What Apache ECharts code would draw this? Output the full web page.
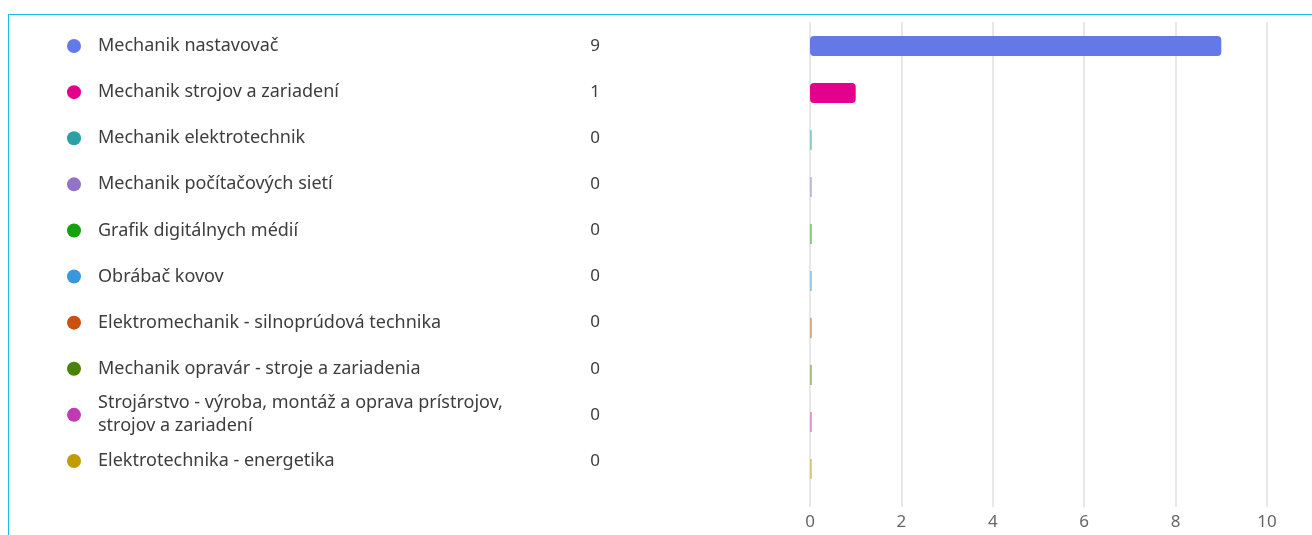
<!DOCTYPE html>
<html lang="sk">
  <head>
    <meta charset="UTF-8" />
    <title>Odbory</title>
    <script src="https://cdn.jsdelivr.net/npm/echarts@6/dist/echarts.min.js"></script>
    <style>
      html, body { margin: 0; padding: 0; background: #fff; }
      #main { position: absolute; left: 0; top: 0; width: 1312px; height: 535px; }
      /* modrý rámček okolo */
      #frame {
        position: absolute; left: 8px; top: 14px; width: 1304px; height: 521px;
        border-top: 1.5px solid #1ab8ec; border-left: 1.5px solid #1ab8ec;
        pointer-events: none; box-sizing: border-box;
      }
    </style>
  </head>
  <body>
    <div id="main"></div>
    <div id="frame"></div>
    <script>
      // údaje
      const odbory = [
        "Mechanik nastavovač",
        "Mechanik strojov a zariadení",
        "Mechanik elektrotechnik",
        "Mechanik počítačových sietí",
        "Grafik digitálnych médií",
        "Obrábač kovov",
        "Elektromechanik - silnoprúdová technika",
        "Mechanik opravár - stroje a zariadenia",
        "Strojárstvo - výroba, montáž a oprava prístrojov,\nstrojov a zariadení",
        "Elektrotechnika - energetika",
      ];
      const pocty = [9, 1, 0, 0, 0, 0, 0, 0, 0, 0];
      const farby = [
        "#6379e8", "#e3008c", "#2aa0a4", "#9373c8", "#13a10e",
        "#3a96dd", "#ca5010", "#498205", "#c239b3", "#c19c00",
      ];
      const xTicks = [0, 2, 4, 6, 8, 10];

      const chart = echarts.init(document.getElementById("main"));
      const font = "'Noto Sans', 'Open Sans', sans-serif";
      const textColor = "#3d3d3d";

      // rich štýly pre farebné bodky
      const dotRich = {};
      farby.forEach((c, i) => {
        dotRich["c" + i] = { width: 14, height: 14, borderRadius: 7, backgroundColor: c };
      });

      const GRID_LEFT = 810;

      const option = {
        animation: false,
        grid: [
          { left: GRID_LEFT, width: 457, top: 22.5, height: 470 }, // stĺpce
          { left: GRID_LEFT, width: 457, top: 22, height: 485 }, // mriežka a os
          { left: GRID_LEFT, width: 457, top: 23, height: 461 }, // legenda vľavo
        ],
        xAxis: [
          { gridIndex: 0, type: "value", min: 0, max: 10, interval: 2, show: false },
          {
            gridIndex: 1, type: "value", min: 0, max: 10, interval: 2,
            axisLine: { show: false }, axisTick: { show: false },
            splitLine: { lineStyle: { color: "#e8e8e8", width: 2 } },
            axisLabel: {
              margin: 7, color: "#666", fontSize: 17, fontFamily: font,
              formatter: (v) => (xTicks.includes(v) ? String(v) : ""),
            },
          },
          { gridIndex: 2, type: "value", min: 0, max: 10, show: false },
        ],
        yAxis: [
          { gridIndex: 0, type: "category", inverse: true, data: odbory, show: false },
          { gridIndex: 1, type: "category", inverse: true, data: odbory, show: false },
          // bodky
          {
            gridIndex: 2, type: "category", inverse: true, data: odbory, position: "left",
            axisLine: { show: false }, axisTick: { show: false }, splitLine: { show: false },
            axisLabel: {
              margin: GRID_LEFT - 74, align: "center",
              formatter: (v, i) => "{c" + i + "| }",
              rich: dotRich,
            },
          },
          // názvy
          {
            gridIndex: 2, type: "category", inverse: true, data: odbory, position: "left",
            axisLine: { show: false }, axisTick: { show: false }, splitLine: { show: false },
            axisLabel: {
              margin: GRID_LEFT - 98, align: "left", color: textColor,
              fontSize: 18, lineHeight: 23, fontFamily: font,
            },
          },
          // počty
          {
            gridIndex: 2, type: "category", inverse: true, data: pocty.map(String), position: "left",
            axisLine: { show: false }, axisTick: { show: false }, splitLine: { show: false },
            axisLabel: {
              margin: GRID_LEFT - 595, align: "center", color: textColor,
              fontSize: 17, fontFamily: font,
            },
          },
        ],
        series: [
          {
            type: "bar",
            xAxisIndex: 0,
            yAxisIndex: 0,
            barWidth: 20,
            barMinHeight: 2,
            data: pocty.map((v, i) => ({
              value: v,
              itemStyle: {
                color: farby[i],
                opacity: v === 0 ? 0.45 : 1,
                borderRadius: v === 0 ? 0 : 4,
              },
            })),
          },
        ],
      };

      chart.setOption(option);
    </script>
  </body>
</html>
